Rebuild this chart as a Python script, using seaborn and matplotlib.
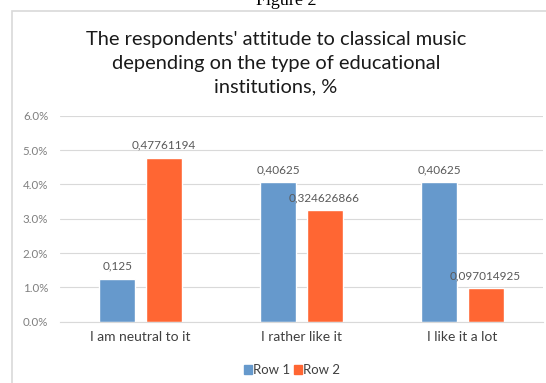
import pandas as pd
import seaborn as sns
import matplotlib.pyplot as plt
from matplotlib.patches import Rectangle, Patch
from matplotlib.ticker import FuncFormatter

# values as printed in the data labels (axis shows them x10 as %)
categories = ["I am neutral to it", "I rather like it", "I like it a lot"]
row1 = [0.125, 0.40625, 0.40625]
row2 = [0.47761194, 0.324626866, 0.097014925]
series = ["Row 1", "Row 2"]
colors = ["#6699CC", "#FF6633"]

df = pd.DataFrame({
    "Answer": categories * 2,
    "Value": row1 + row2,
    "Series": ["Row 1"] * 3 + ["Row 2"] * 3,
})

sns.set_style("white")
plt.rcParams["font.family"] = ["Lato", "DejaVu Sans"]

fig = plt.figure(figsize=(5.46, 3.83), dpi=100)
ax = fig.add_axes([60 / 546, 1 - 321.7 / 383, (543 - 60) / 546, (321.7 - 115.7) / 383])

sns.barplot(data=df, x="Answer", y="Value", hue="Series", palette=colors,
            width=0.573, gap=0.217, ax=ax, legend=False, saturation=1)

for cont in ax.containers:
    labels = [str(v).replace(".", ",") for v in cont.datavalues]
    ax.bar_label(cont, labels=labels, padding=5, fontsize=8.5, color="#595959")

ax.set_ylim(0, 0.6)
ax.set_yticks([0, 0.1, 0.2, 0.3, 0.4, 0.5, 0.6])
ax.yaxis.set_major_formatter(FuncFormatter(lambda v, p: f"{v * 10:.1f}%"))
ax.grid(axis="y", color="#D9D9D9", linewidth=0.8)
ax.set_axisbelow(True)
for s in ["top", "right", "left"]:
    ax.spines[s].set_visible(False)
ax.spines["bottom"].set_color("#D9D9D9")
ax.tick_params(axis="y", length=0, pad=8.5, labelsize=8.3, labelcolor="#7F7F7F")
ax.tick_params(axis="x", length=0, pad=7, labelsize=10, labelcolor="#404040")
ax.set_xlabel("")
ax.set_ylabel("")

handles = [Patch(color=c, label=s) for c, s in zip(colors, series)]
fig.legend(handles=handles, loc="center", bbox_to_anchor=(292 / 546, 1 - 370 / 383),
           ncol=2, frameon=False, fontsize=9.5, handlelength=0.6, handleheight=0.6,
           handletextpad=0.1, columnspacing=0.3, labelcolor="#404040")

fig.text(276 / 546, 1 - 63 / 383,
         "The respondents' attitude to classical music\ndepending on the type of educational\ninstitutions, %",
         ha="center", va="center", fontsize=14.4, linespacing=1.5, color="#1a1a1a")

# chart border and cut-off caption above it
fig.patches.append(Rectangle((12 / 546, -0.1), 1.2, 1 - 10.7 / 383 + 0.1,
                             transform=fig.transFigure, fill=False,
                             edgecolor="#D9D9D9", linewidth=1.2))
fig.text(286 / 546, 1 - 5 / 383, "Figure 2", ha="center", va="baseline",
         fontsize=13, family="Liberation Serif", color="black")

fig.savefig("out.png", dpi=100)
